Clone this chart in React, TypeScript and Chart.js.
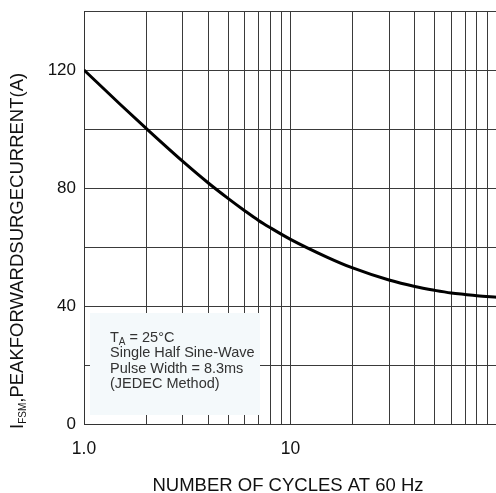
import React, { useEffect, useRef } from 'react';
import { Chart, registerables } from 'chart.js';

Chart.register(...registerables);

// ---- data ----
const cycles = [1, 1.5, 2, 3, 4, 5, 6, 7, 8, 10, 15, 20, 30, 40, 50, 60, 70, 80, 100];
const surgeCurrent = [120, 108.3, 100.2, 89.1, 81.7, 76.4, 72.3, 69.0, 66.5, 62.6, 56.6, 52.9, 48.8, 46.6, 45.3, 44.4, 43.9, 43.5, 43.0];
const xGridValues = [1, 2, 3, 4, 5, 6, 7, 8, 9, 10, 20, 30, 40, 50, 60, 70, 80, 90, 100];
const xTickLabels: Record<number, string> = { 1: '1.0', 10: '10' };
const yLabelValues = [0, 40, 80, 120];
const yMin = 0;
const yMax = 140;
const yStep = 20;
const xTitle = 'NUMBER OF CYCLES AT 60 Hz';
const yTitleMain = 'I';
const yTitleSub = 'FSM';
const yTitleRest = ',PEAKFORWARDSURGECURRENT(A)';
const noteFirstMain = 'T';
const noteFirstSub = 'A';
const noteFirstRest = ' = 25°C';
const noteLines = ['Single Half Sine-Wave', 'Pulse Width = 8.3ms', '(JEDEC Method)'];

const FONT = '"Liberation Sans", Arial, Helvetica, sans-serif';

const decor = {
  id: 'decor',
  beforeDatasetsDraw(chart: any) {
    const ctx = chart.ctx as CanvasRenderingContext2D;
    const a = chart.chartArea;
    ctx.save();
    // note box
    ctx.fillStyle = '#f4f9fb';
    ctx.fillRect(a.left + 6, a.bottom - 111, 170, 102);
    // note text
    ctx.fillStyle = '#333';
    ctx.textBaseline = 'alphabetic';
    ctx.textAlign = 'left';
    const tx = a.left + 26;
    const by = a.bottom - 82.3;
    ctx.font = `14.5px ${FONT}`;
    ctx.fillText(noteFirstMain, tx, by);
    let w = ctx.measureText(noteFirstMain).width;
    ctx.font = `10px ${FONT}`;
    ctx.fillText(noteFirstSub, tx + w, by + 3);
    w += ctx.measureText(noteFirstSub).width;
    ctx.font = `14.5px ${FONT}`;
    ctx.fillText(noteFirstRest, tx + w, by);
    noteLines.forEach((line, i) => {
      ctx.fillText(line, tx, by + 15.4 * (i + 1));
    });
    ctx.restore();
  },
  afterDraw(chart: any) {
    const ctx = chart.ctx as CanvasRenderingContext2D;
    ctx.save();
    ctx.fillStyle = '#111';
    ctx.textBaseline = 'alphabetic';
    // x title
    ctx.font = `18.5px ${FONT}`;
    ctx.textAlign = 'center';
    ctx.fillText(xTitle, 288, 490.5);
    // y title
    ctx.translate(23, 429);
    ctx.rotate(-Math.PI / 2);
    ctx.textAlign = 'left';
    ctx.font = `18.5px ${FONT}`;
    ctx.fillText(yTitleMain, 0, 0);
    let w = ctx.measureText(yTitleMain).width;
    ctx.font = `10px ${FONT}`;
    ctx.fillText(yTitleSub, w, 2.5);
    w += ctx.measureText(yTitleSub).width;
    ctx.font = `18.5px ${FONT}`;
    ctx.fillText(yTitleRest, w, 0);
    ctx.restore();
  },
};

export default function App() {
  const ref = useRef<HTMLCanvasElement>(null);
  useEffect(() => {
    if (!ref.current) return;
    const chart = new Chart(ref.current, {
      type: 'line',
      data: {
        datasets: [
          {
            data: cycles.map((c, i) => ({ x: c, y: surgeCurrent[i] })),
            borderColor: '#000',
            borderWidth: 3,
            pointRadius: 0,
            cubicInterpolationMode: 'monotone',
            fill: false,
          },
        ],
      },
      options: {
        animation: false,
        responsive: false,
        layout: { padding: { top: 11, right: 3, left: 0, bottom: 0 } },
        plugins: { legend: { display: false }, tooltip: { enabled: false } },
        scales: {
          x: {
            type: 'logarithmic',
            min: 1,
            max: 100,
            afterBuildTicks: (s: any) => {
              s.ticks = xGridValues.map((v) => ({ value: v }));
            },
            afterFit: (s: any) => {
              s.height = 69;
              s.paddingLeft = 0;
              s.paddingRight = 0;
            },
            grid: { color: '#3a3a3a', lineWidth: 1, drawTicks: false },
            border: { color: '#333', width: 1 },
            ticks: {
              autoSkip: false,
              maxRotation: 0,
              minRotation: 0,
              padding: 15,
              color: '#111',
              font: { family: FONT, size: 17.5 },
              callback: (v: any) => xTickLabels[Number(v)] ?? '',
            },
          },
          y: {
            type: 'linear',
            min: yMin,
            max: yMax,
            afterFit: (s: any) => {
              s.width = 84;
              s.paddingTop = 0;
              s.paddingBottom = 0;
            },
            grid: { color: '#3a3a3a', lineWidth: 1, drawTicks: false },
            border: { color: '#333', width: 1 },
            ticks: {
              stepSize: yStep,
              padding: 8,
              color: '#111',
              font: { family: FONT, size: 17 },
              callback: (v: any) => (yLabelValues.includes(Number(v)) ? String(v) : ''),
            },
          },
        },
      },
      plugins: [decor],
    } as any);
    return () => chart.destroy();
  }, []);

  return (
    <div
      style={{
        position: 'absolute',
        left: 0,
        top: 0,
        width: 496,
        height: 493,
        overflow: 'hidden',
        background: '#fff',
      }}
    >
      <canvas ref={ref} width={500} height={493} style={{ display: 'block' }} />
    </div>
  );
}
